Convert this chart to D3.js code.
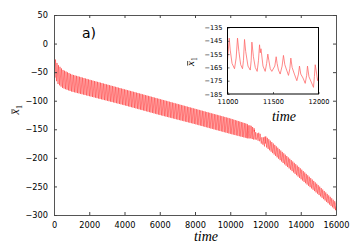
<!DOCTYPE html>
<html>
<head>
<meta charset="utf-8">
<script src="https://cdn.jsdelivr.net/npm/d3@7"></script>
<style>
body { margin: 0; background: #fff; }
svg text { font-family: "DejaVu Sans", "Liberation Sans", Arial, sans-serif; fill: #000; }
.lbl { font-family: "Liberation Serif", "DejaVu Serif", serif; font-style: italic; }
</style>
</head>
<body>
<svg width="358" height="247"></svg>
<script>
/* tick labels */
var xTicks = [0, 2000, 4000, 6000, 8000, 10000, 12000, 14000, 16000];
var yTicks = [50, 0, -50, -100, -150, -200, -250, -300];
var insetXTicks = [11000, 11500, 12000];
var insetYTicks = [-135, -145, -155, -165, -175, -185];

/* envelope (upper / lower) of the fast oscillation */
var envTime  = [0, 200, 500, 1000, 2000, 4000, 6000, 8000, 10000, 11000];
var envUpper = [-22, -36, -46, -54, -63, -80, -97, -114, -131, -141];
var envLower = [-55, -70, -78, -84, -92, -108, -125, -141, -158, -166];
/* after the kink: centre line and spike extremes */
var lateTime  = [12000, 13000, 14000, 15000, 16000];
var lateMid   = [-171, -200, -228, -256, -285];
var lateUpper = [-162, -191, -219, -248, -278];
var lateLower = [-180, -209, -237, -264, -292];
var oscPeriod = 85;

/* the inset window, turning points read one by one */
var insetTime = [11000, 11019, 11030, 11050, 11077, 11095, 11110, 11125, 11145, 11165, 11175, 11187, 11200, 11225, 11250, 11260, 11268, 11285, 11305, 11326, 11340, 11352, 11360, 11368, 11390, 11414, 11430, 11443, 11455, 11470, 11487, 11520, 11535, 11545, 11560, 11579, 11600, 11615, 11630, 11650, 11670, 11685, 11696, 11710, 11735, 11762, 11780, 11791, 11805, 11830, 11854, 11870, 11879, 11895, 11920, 11945, 11955, 11964, 11980, 11990, 12000];
var insetX1 = [-160, -143, -152, -162, -166, -158, -143, -153, -163, -166, -160, -144, -153, -164, -167, -160, -146, -157, -165, -168, -160, -148, -154, -151, -164, -168, -162, -155, -160, -166, -168, -164, -157, -162, -167, -170, -164, -156, -163, -167, -171, -166, -158, -165, -170, -175, -170, -164, -170, -173, -177, -171, -164, -172, -176, -180, -172, -163, -170, -175, -172];

var svg = d3.select("svg");

// build the trajectory between the read envelopes, inset points in between
function zigzag(times, up, lo, t0, t1, out) {
    var fu = d3.scaleLinear().domain(times).range(up);
    var fl = d3.scaleLinear().domain(times).range(lo);
    for (var t = t0; t < t1; t += oscPeriod) {
        out.push([t, fu(t)]);
        var tt = Math.min(t + oscPeriod * 0.7, t1);
        out.push([tt, fl(tt)]);
    }
}
function spikes(times, mid, up, lo, t0, t1, out) {
    var fm = d3.scaleLinear().domain(times).range(mid);
    var fu = d3.scaleLinear().domain(times).range(up);
    var fl = d3.scaleLinear().domain(times).range(lo);
    for (var t = t0; t < t1; t += oscPeriod) {
        out.push([t, fm(t)]);
        out.push([t + oscPeriod * 0.2, fu(t + oscPeriod * 0.2)]);
        out.push([t + oscPeriod * 0.45, fm(t + oscPeriod * 0.45)]);
        var tt = Math.min(t + oscPeriod * 0.75, t1);
        out.push([tt, fl(tt)]);
    }
}
var traj = [];
zigzag(envTime, envUpper, envLower, 0, 11000, traj);
insetTime.forEach(function (t, i) { traj.push([t, insetX1[i]]); });
spikes(lateTime, lateMid, lateUpper, lateLower, 12000, 16000, traj);
traj.push([16000, -285]);

var fmt = d3.format("d");

/* main panel */
var L = 54, R = 336, T = 15, B = 215;
var x = d3.scaleLinear().domain([0, 16000]).range([L, R]);
var y = d3.scaleLinear().domain([-300, 50]).range([B, T]);

var line = d3.line().x(function (d) { return x(d[0]); }).y(function (d) { return y(d[1]); });

svg.append("clipPath").attr("id", "mc").append("rect")
    .attr("x", L).attr("y", T).attr("width", R - L).attr("height", B - T);

svg.append("path")
    .datum(traj)
    .attr("clip-path", "url(#mc)")
    .attr("fill", "none")
    .attr("stroke", "#ff1010")
    .attr("stroke-width", 0.45)
    .attr("d", line);

var g = svg.append("g");
g.append("g").attr("transform", "translate(0," + B + ")")
    .call(d3.axisBottom(x).tickValues(xTicks).tickFormat(fmt).tickSizeInner(-3).tickSizeOuter(0).tickPadding(7));
g.append("g").attr("transform", "translate(0," + T + ")")
    .call(d3.axisTop(x).tickValues(xTicks).tickSizeInner(-3).tickSizeOuter(0).tickFormat(""));
g.append("g").attr("transform", "translate(" + L + ",0)")
    .call(d3.axisLeft(y).tickValues(yTicks).tickFormat(fmt).tickSizeInner(-3).tickSizeOuter(0).tickPadding(6));
g.append("g").attr("transform", "translate(" + R + ",0)")
    .call(d3.axisRight(y).tickValues(yTicks).tickSizeInner(-3).tickSizeOuter(0).tickFormat(""));
g.selectAll(".domain").attr("stroke", "#555");
g.selectAll(".tick line").attr("stroke", "#444");
g.selectAll(".tick text").attr("font-size", 8.2).attr("font-family", "DejaVu Sans, Liberation Sans, sans-serif");

svg.append("text").attr("x", 82).attr("y", 38).attr("font-size", 14)
    .attr("font-family", "Liberation Sans, Arial, sans-serif").text("a)");

svg.append("text").attr("class", "lbl").attr("x", 206).attr("y", 241)
    .attr("text-anchor", "middle").attr("font-size", 14).text("time");

// x-bar with subscript 1, rotated
function barLabel(cx, cy, size) {
    var gg = svg.append("g").attr("transform", "translate(" + cx + "," + cy + ") rotate(-90)");
    var t = gg.append("text").attr("class", "lbl").attr("font-size", size).attr("text-anchor", "start")
        .attr("x", -size * 0.45);
    t.append("tspan").text("x");
    t.append("tspan").attr("font-size", size * 0.68).attr("dy", size * 0.25).attr("font-style", "normal")
        .attr("font-family", "Liberation Serif, serif").text("1");
    gg.append("line").attr("x1", -size * 0.42).attr("x2", -size * 0.42 + size * 0.42)
        .attr("y1", -size * 0.58).attr("y2", -size * 0.58)
        .attr("stroke", "#000").attr("stroke-width", 0.7);
}
barLabel(19, 109, 12);

/* inset */
var iL = 227.5, iR = 318.5, iT = 27.5, iB = 94;
var ix = d3.scaleLinear().domain([11000, 12000]).range([iL, iR]);
var iy = d3.scaleLinear().domain([-185, -135]).range([iB, iT]);

svg.append("rect").attr("x", iL - 3).attr("y", iT - 3).attr("width", iR - iL + 6).attr("height", iB - iT + 6)
    .attr("fill", "#fff");

svg.append("clipPath").attr("id", "ic").append("rect")
    .attr("x", iL).attr("y", iT).attr("width", iR - iL).attr("height", iB - iT);

var iline = d3.line().x(function (d) { return ix(d[0]); }).y(function (d) { return iy(d[1]); });
svg.append("path")
    .datum(insetTime.map(function (t, i) { return [t, insetX1[i]]; }))
    .attr("clip-path", "url(#ic)")
    .attr("fill", "none")
    .attr("stroke", "#ff6a6a")
    .attr("stroke-width", 0.8)
    .attr("d", iline);

var ig = svg.append("g");
ig.append("g").attr("transform", "translate(0," + iB + ")")
    .call(d3.axisBottom(ix).tickValues(insetXTicks).tickFormat(fmt).tickSizeInner(-2).tickSizeOuter(0).tickPadding(5));
ig.append("g").attr("transform", "translate(" + iL + ",0)")
    .call(d3.axisLeft(iy).tickValues(insetYTicks).tickFormat(fmt).tickSizeInner(-2).tickSizeOuter(0).tickPadding(5));
ig.selectAll(".tick text").attr("font-size", 6.6).attr("font-family", "DejaVu Sans, Liberation Sans, sans-serif");
ig.selectAll(".tick line").attr("stroke", "#666");
ig.selectAll(".domain").remove();
svg.append("rect").attr("x", iL).attr("y", iT).attr("width", iR - iL).attr("height", iB - iT)
    .attr("fill", "none").attr("stroke", "#000").attr("stroke-width", 1);

svg.append("text").attr("class", "lbl").attr("x", 284).attr("y", 121)
    .attr("text-anchor", "middle").attr("font-size", 14).text("time");

barLabel(194, 61, 11);
</script>
</body>
</html>
